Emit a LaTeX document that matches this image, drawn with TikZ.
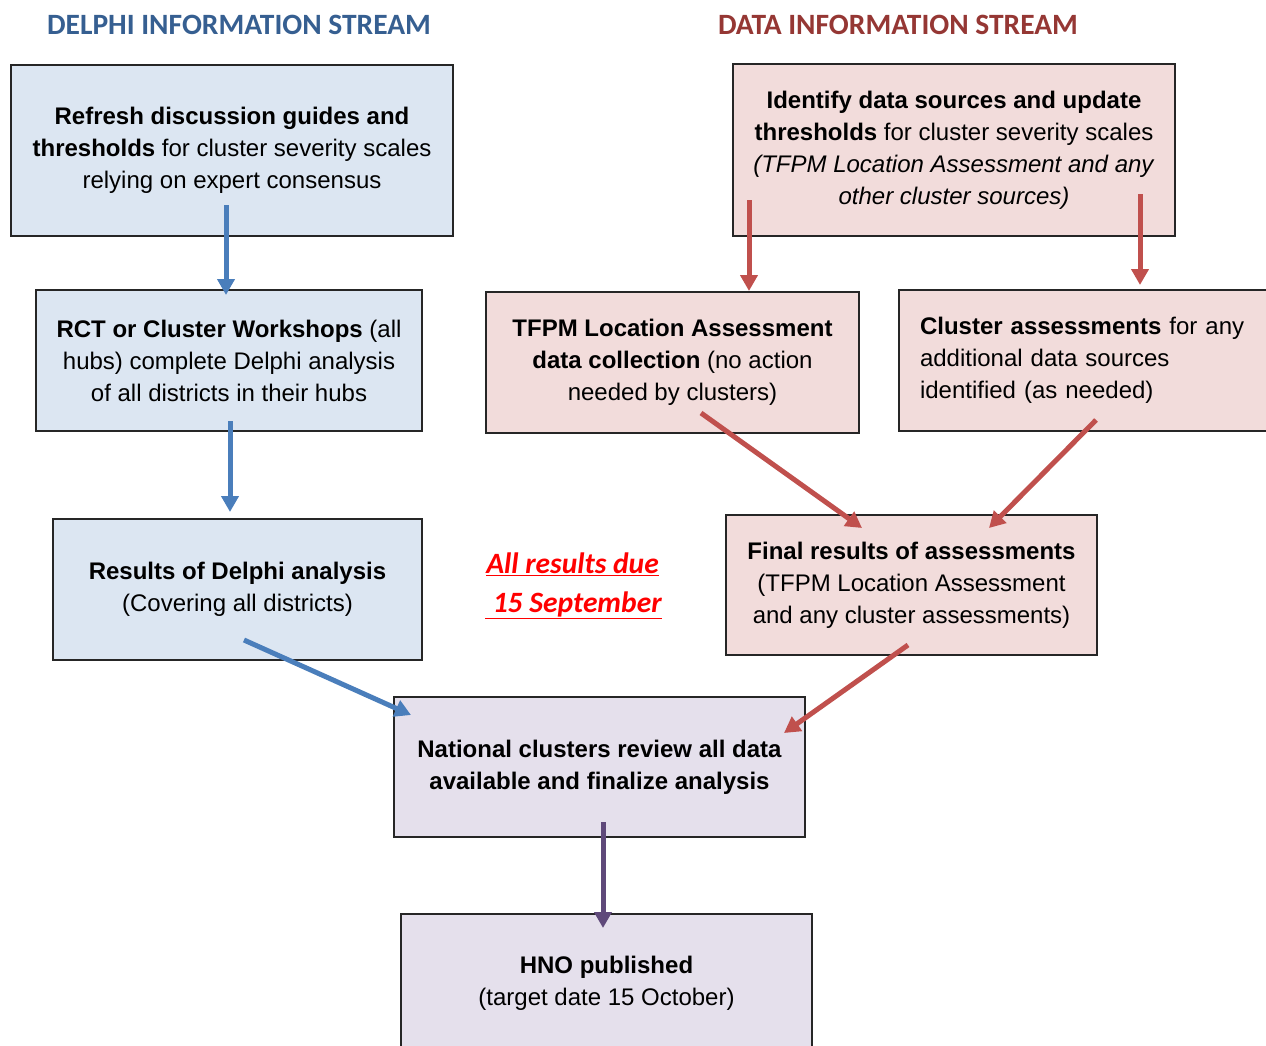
\documentclass[tikz,border=0pt]{standalone}
\usepackage{fontspec}
\setmainfont{Liberation Sans}
\newfontfamily\calibri{Carlito}
\usetikzlibrary{arrows.meta}
\definecolor{bluefill}{HTML}{DCE6F2}
\definecolor{redfill}{HTML}{F2DCDB}
\definecolor{purfill}{HTML}{E5E0EC}
\definecolor{boxline}{HTML}{262626}
\definecolor{bluearr}{HTML}{4A7EBB}
\definecolor{redarr}{HTML}{C0504D}
\definecolor{purarr}{HTML}{5F497A}
\definecolor{headblue}{HTML}{365F91}
\definecolor{headred}{HTML}{953734}
\definecolor{duered}{HTML}{FF0000}
\begin{document}
\begin{tikzpicture}[x=1pt,y=-1pt,
  box/.style={draw=boxline, line width=1.3pt, align=center, inner sep=0pt,
    font=\fontsize{24}{32}\selectfont},
  bluebox/.style={box, fill=bluefill},
  redbox/.style={box, fill=redfill},
  purbox/.style={box, fill=purfill},
  arr/.style={line width=5pt, -{Triangle[width=17pt,length=16pt]}},
  bluea/.style={arr, draw=bluearr, fill=bluearr},
  reda/.style={arr, draw=redarr, fill=redarr},
  pura/.style={arr, draw=purarr, fill=purarr},
  head/.style={font=\calibri\bfseries\fontsize{29.5}{32}\selectfont, inner sep=0pt},
  due/.style={font=\calibri\bfseries\itshape\fontsize{29.5}{32}\selectfont, text=duered, inner sep=0pt}
]
\useasboundingbox (0,0) rectangle (1266,1046);
\clip (0,0) rectangle (1266,1046);

% headers
\node[head, text=headblue] (h1) at (239,25) {DELPHI INFORMATION STREAM};
\node[head, text=headred] (h2) at (898,25) {DATA INFORMATION STREAM};

% Delphi stream
\node[bluebox, minimum width=442pt, minimum height=171pt] (n1) at (232,150.5)
  {\textbf{Refresh discussion guides and}\\ \textbf{thresholds} for cluster severity scales\\ relying on expert consensus};
\node[bluebox, minimum width=386pt, minimum height=141pt] (n2) at (229,360.5)
  {\textbf{RCT or Cluster Workshops} (all\\ hubs) complete Delphi analysis\\ of all districts in their hubs};
\node[bluebox, minimum width=369pt, minimum height=141pt] (n3) at (237.5,589.5)
  {\textbf{Results of Delphi analysis}\\ (Covering all districts)};

% Data stream
\node[redbox, minimum width=442pt, minimum height=172pt] (d1) at (954,150)
  {\textbf{Identify data sources and update}\\ \textbf{thresholds} for cluster severity scales\\ \textit{(TFPM Location Assessment and any}\\ \textit{other cluster sources)}};
\node[redbox, minimum width=373pt, minimum height=141pt] (d2) at (672.5,362.5)
  {\textbf{TFPM Location Assessment}\\ \textbf{data collection} (no action\\ needed by clusters)};
\node[redbox, minimum width=372pt, minimum height=141pt, align=left, text width=330pt, inner xsep=21pt] (d3) at (1085,360.5)
  {\textbf{Cluster assessments} for any\\ additional data sources\\ identified (as needed)};
\node[redbox, minimum width=371pt, minimum height=140pt] (d4) at (911.5,585)
  {\textbf{Final results of assessments}\\ (TFPM Location Assessment\\ and any cluster assessments)};

% joint
\node[purbox, minimum width=411pt, minimum height=140pt] (j1) at (599.5,767)
  {\textbf{National clusters review all data}\\ \textbf{available and finalize analysis}};
\node[purbox, minimum width=411pt, minimum height=138pt] (j2) at (606.5,983)
  {\textbf{HNO published}\\ (target date 15 October)};

% due note
\node[due] (due1) at (572.5,564) {\underline{All results due}};
\node[due] (due2) at (573.5,605) {\underline{\hspace{0.25em}15 September}};

% arrow end points
\coordinate (a1s) at (226,205);  \coordinate (a1e) at (226,295);
\coordinate (a2s) at (230,421);  \coordinate (a2e) at (230,512);
\coordinate (a3s) at (244,640);  \coordinate (a3e) at (411,715);
\coordinate (b1s) at (749,200);  \coordinate (b1e) at (749,291);
\coordinate (b2s) at (1140,194); \coordinate (b2e) at (1140,285);
\coordinate (b3s) at (701,413);  \coordinate (b3e) at (862,528);
\coordinate (b4s) at (1096,420); \coordinate (b4e) at (989,528);
\coordinate (b5s) at (908,645);  \coordinate (b5e) at (784,733);
\coordinate (c1s) at (603,822);  \coordinate (c1e) at (603,928);

\draw[bluea] (a1s) -- (a1e);
\draw[bluea] (a2s) -- (a2e);
\draw[bluea] (a3s) -- (a3e);
\draw[reda] (b1s) -- (b1e);
\draw[reda] (b2s) -- (b2e);
\draw[reda] (b3s) -- (b3e);
\draw[reda] (b4s) -- (b4e);
\draw[reda] (b5s) -- (b5e);
\draw[pura] (c1s) -- (c1e);
\end{tikzpicture}
\end{document}
